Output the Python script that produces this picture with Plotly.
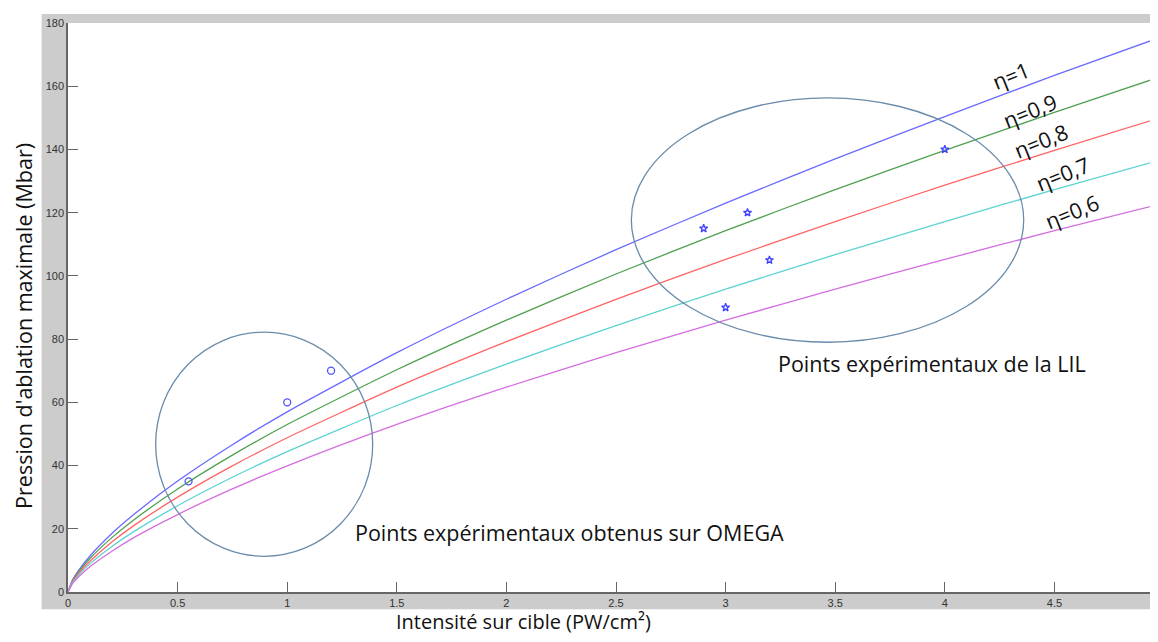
import plotly.graph_objects as go

# ---- data ----
intensity = [0, 0.02, 0.05, 0.1, 0.2, 0.3, 0.5, 0.75, 1, 1.5, 2, 2.5, 3, 3.5, 4, 4.5, 5]
p_eta_1 = [0, 3.7, 7.0, 11.4, 18.5, 24.5, 35.1, 46.6, 57.0, 75.7, 92.6, 108.3, 123.0, 137.0, 150.4, 163.4, 175.9]
p_eta_09 = [0, 3.4, 6.5, 10.6, 17.2, 22.8, 32.6, 43.3, 53.0, 70.3, 86.0, 100.6, 114.3, 127.3, 139.7, 151.7, 163.4]
p_eta_08 = [0, 3.2, 6.0, 9.7, 15.8, 21.0, 30.0, 39.9, 48.8, 64.8, 79.2, 92.6, 105.2, 117.2, 128.7, 139.7, 150.4]
p_eta_07 = [0, 2.9, 5.5, 8.9, 14.4, 19.1, 27.3, 36.3, 44.4, 59.0, 72.1, 84.3, 95.8, 106.7, 117.2, 127.3, 137.0]
p_eta_06 = [0, 2.6, 4.9, 8.0, 12.9, 17.2, 24.5, 32.6, 39.9, 53.0, 64.8, 75.7, 86.0, 95.8, 105.2, 114.3, 123.0]
eta_labels = ["η=1", "η=0,9", "η=0,8", "η=0,7", "η=0,6"]

omega_x = [0.55, 1.0, 1.2]
omega_y = [35, 60, 70]
lil_x = [2.9, 3.1, 3.2, 3.0, 4.0]
lil_y = [115, 120, 105, 90, 140]

# ellipses (x0, x1, y0, y1) around the experimental groups
omega_ellipse = [0.40, 1.39, 11.3, 82.2]
lil_ellipse = [2.57, 4.36, 79.0, 156.3]

# label anchor positions
eta_label_x = [4.30, 4.39, 4.44, 4.54, 4.58]
eta_label_y = [163.3, 152.4, 142.9, 132.3, 120.5]

x_ticks = [0, 0.5, 1, 1.5, 2, 2.5, 3, 3.5, 4, 4.5]
x_tick_text = ["0", "0.5", "1", "1.5", "2", "2.5", "3", "3.5", "4", "4.5"]
y_ticks = [0, 20, 40, 60, 80, 100, 120, 140, 160, 180]

colors = ["#6a6aff", "#50a050", "#ff6464", "#5cd2d2", "#d46ee0"]
series = [p_eta_1, p_eta_09, p_eta_08, p_eta_07, p_eta_06]

# figure geometry (page has an 8px body margin)
FIG_W, FIG_H = 1142, 626
ML, MT, MB = 60, 15, 42
W = FIG_W - ML
H = FIG_H - MT - MB
PX_PER_X = 219.2
AX_X = 68.4   # page x of the y axis
AX_Y = 591.7  # page y of the x axis

fig = go.Figure()
for vals, col, name in zip(series, colors, eta_labels):
    fig.add_trace(go.Scatter(x=intensity, y=vals, mode="lines", name=name,
                             line=dict(color=col, width=1.3, shape="spline", smoothing=0.6),
                             showlegend=False))

fig.add_trace(go.Scatter(x=omega_x, y=omega_y, mode="markers", showlegend=False,
                         marker=dict(symbol="circle-open", size=7, color="#5050ff",
                                     line=dict(width=1.3, color="#5050ff"))))
fig.add_trace(go.Scatter(x=lil_x, y=lil_y, mode="markers", showlegend=False,
                         marker=dict(symbol="star-open", size=6, color="#4040ff",
                                     line=dict(width=1.3, color="#4040ff"))))

ell_col = "#6a8cab"
for e in (omega_ellipse, lil_ellipse):
    fig.add_shape(type="circle", xref="x", yref="y", x0=e[0], x1=e[1], y0=e[2], y1=e[3],
                  line=dict(color=ell_col, width=1.3))

# grey figure background strips (MATLAB-style frame)
grey = "#cccccc"
lx = -(AX_X - 42) / W
by = -(609 - AX_Y) / H
ty = 1 + (23 - 14) / H
for x0, x1, y0, y1 in [(lx, 0, by, ty), (0, 1.01, 1, ty), (0, 1.01, by, 0)]:
    fig.add_shape(type="rect", xref="paper", yref="paper", x0=x0, x1=x1, y0=y0, y1=y1,
                  fillcolor=grey, line=dict(width=0), layer="below")

txt_font = dict(family="Open Sans, Noto Sans, sans-serif", size=21.5, color="#111111")
title_font = dict(family="Open Sans, Noto Sans, sans-serif", size=21.5, color="#111111")
xtitle_font = dict(family="Open Sans, Noto Sans, sans-serif", size=20, color="#111111")
for lab, lx_, ly_ in zip(eta_labels, eta_label_x, eta_label_y):
    fig.add_annotation(x=lx_, y=ly_, text=lab, showarrow=False, textangle=-22,
                       font=txt_font, xanchor="center", yanchor="middle")

fig.add_annotation(x=2.29, y=18.9, text="Points expérimentaux obtenus sur OMEGA",
                   showarrow=False, font=txt_font, xanchor="center", yanchor="middle")
fig.add_annotation(x=3.94, y=72.4, text="Points expérimentaux de la LIL",
                   showarrow=False, font=txt_font, xanchor="center", yanchor="middle")

fig.add_annotation(xref="paper", yref="paper", x=(524 - AX_X) / W, y=-(621 - AX_Y) / H,
                   text="Intensité sur cible (PW/cm²)", showarrow=False, font=xtitle_font,
                   xanchor="center", yanchor="middle")
fig.add_annotation(xref="paper", yref="paper", x=-(AX_X - 24) / W, y=(AX_Y - 326) / H,
                   text="Pression d'ablation maximale (Mbar)", showarrow=False, font=title_font,
                   textangle=-90, xanchor="center", yanchor="middle")

tick_font = dict(family="Liberation Sans, Arial, sans-serif", size=11, color="#333333")
fig.update_xaxes(range=[0, W / PX_PER_X], tickvals=x_ticks, ticktext=x_tick_text,
                 ticks="inside", ticklen=10, tickcolor="#666666", tickwidth=1,
                 showline=True, linecolor="#666666", linewidth=1.5, showgrid=False,
                 zeroline=False, tickfont=tick_font)
fig.update_yaxes(range=[0, 180], tickvals=y_ticks, ticks="inside", ticklen=10,
                 tickcolor="#666666", tickwidth=1, showline=True, linecolor="#666666",
                 linewidth=1.5, showgrid=False, zeroline=False, tickfont=tick_font)

fig.update_layout(width=FIG_W, height=FIG_H, margin=dict(l=ML, r=0, t=MT, b=MB),
                  paper_bgcolor="white", plot_bgcolor="white", showlegend=False)

fig.write_html("out.html")
